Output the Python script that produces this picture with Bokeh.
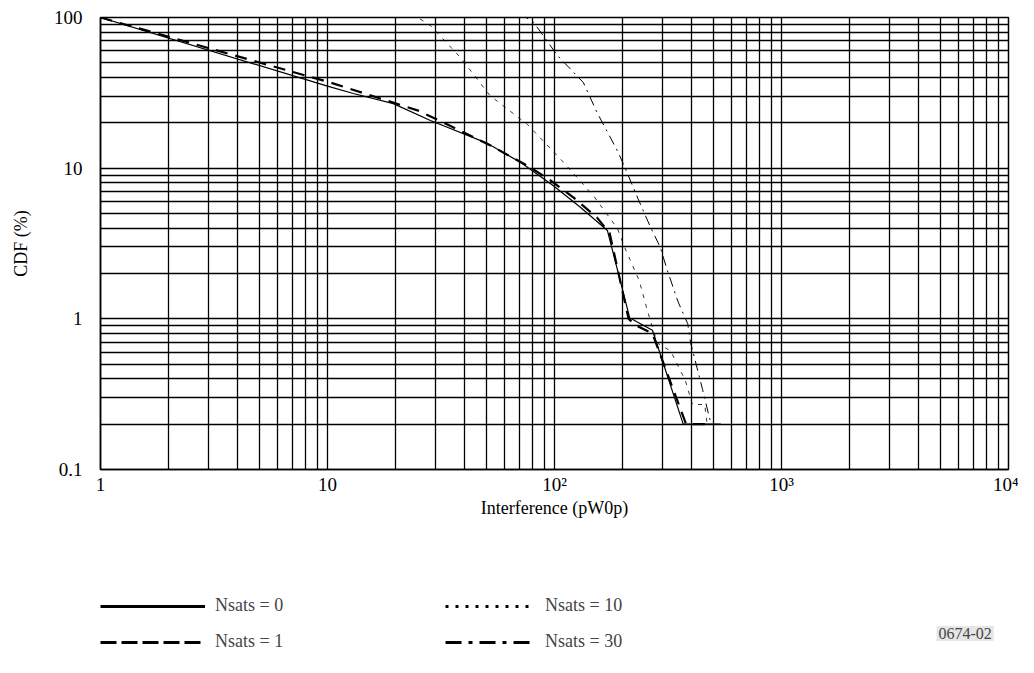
from bokeh.plotting import figure
from bokeh.layouts import column
from bokeh.models import FixedTicker, Legend, LegendItem, Label, CustomJSTickFormatter
from bokeh.embed import file_html
from bokeh.resources import INLINE

# ---- data ----
x_n0 = [1, 10, 13, 19.5, 28.4, 50.7, 71, 98.6, 130, 171, 215, 218, 270, 369, 540]
y_n0 = [100, 35, 31.3, 26.8, 20.7, 14.6, 10.9, 7.67, 5.5, 3.86, 1.0, 1.0, 0.84, 0.2, 0.2]

x_n1 = [1, 10.3, 24.9, 32.4, 52, 78.4, 96, 121, 154, 175, 212, 230, 270, 380, 480]
y_n1 = [100, 37, 24.2, 20.1, 14.2, 10.1, 8.3, 6.4, 4.7, 3.7, 1.0, 0.9, 0.8, 0.2, 0.2]

x_n10 = [1, 25, 28.4, 38.5, 52, 76, 108, 148, 189, 206, 217, 236, 254, 264, 284, 325, 377, 405, 459, 470]
y_n10 = [100, 100, 88.5, 54.3, 30.3, 19.5, 11.2, 6.6, 4.0, 2.86, 2.4, 1.8, 1.2, 0.98, 0.69, 0.61, 0.39, 0.27, 0.27, 0.2]

x_n30 = [1, 75, 81, 103, 134, 154, 191, 209, 233, 264, 292, 314, 350, 386, 398, 449, 478, 490]
y_n30 = [100, 100, 92.7, 56, 37, 23.4, 12.7, 9.3, 6.3, 4.1, 3.0, 2.1, 1.3, 0.93, 0.69, 0.34, 0.23, 0.2]

x_major = [1, 10, 100, 1000, 10000]
y_major = [0.1, 1, 10, 100]
x_grid = [k * 10 ** d for d in range(0, 4) for k in range(1, 10)] + [10000]
y_grid = [round(k * 10.0 ** d, 3) for d in range(-1, 2) for k in range(1, 10)] + [100]

labels = ["Nsats = 0", "Nsats = 1", "Nsats = 10", "Nsats = 30"]
fig_code = "0674-02"

FONT = "Liberation Serif"

p = figure(width=1018, height=540, x_axis_type="log", y_axis_type="log",
           x_range=(1, 10000), y_range=(0.1, 100),
           output_backend="svg", toolbar_location=None,
           min_border_left=100, min_border_right=10, min_border_top=17, min_border_bottom=71)

p.background_fill_color = "white"
p.border_fill_color = "white"
p.outline_line_color = "black"
p.outline_line_width = 1.5

# grids
p.xgrid.ticker = FixedTicker(ticks=x_grid)
p.ygrid.ticker = FixedTicker(ticks=y_grid)
for g in (p.xgrid, p.ygrid):
    g.grid_line_color = "black"
    g.grid_line_width = 1.3
    g.grid_line_alpha = 1.0

# axes
p.xaxis.ticker = FixedTicker(ticks=x_major, minor_ticks=[])
p.yaxis.ticker = FixedTicker(ticks=y_major, minor_ticks=[])
p.xaxis.formatter = CustomJSTickFormatter(code="""
const m = {0: "1", 1: "10", 2: "10\u00b2", 3: "10\u00b3", 4: "10\u2074"};
return m[Math.round(Math.log10(tick))];
""")
p.yaxis.formatter = CustomJSTickFormatter(code="""
const m = {"-1": "0.1", "0": "1", "1": "10", "2": "100"};
return m[String(Math.round(Math.log10(tick)))];
""")
for ax in (p.xaxis, p.yaxis):
    ax.axis_line_color = "black"
    ax.axis_line_width = 1.5
    ax.major_tick_line_color = None
    ax.minor_tick_line_color = None
    ax.major_tick_out = 0
    ax.major_tick_in = 0
    ax.major_label_text_font = FONT
    ax.major_label_text_font_size = "19px"
    ax.major_label_text_color = "black"
    ax.axis_label_text_font = FONT
    ax.axis_label_text_font_size = "18px"
    ax.axis_label_text_font_style = "normal"
    ax.axis_label_text_color = "black"

p.xaxis.axis_label = "Interference (pW0p)"
p.yaxis.axis_label = "CDF (%)"
p.xaxis.major_label_standoff = 4
p.xaxis.axis_label_standoff = 0
p.yaxis.major_label_standoff = 18
p.yaxis.axis_label_standoff = 20

# curves
p.line(x_n0, y_n0, line_color="black", line_width=1.2)
p.line(x_n1, y_n1, line_color="black", line_width=2.2, line_dash="12 8")
p.line(x_n10, y_n10, line_color="black", line_width=0.8, line_dash="4 6")
p.line(x_n30, y_n30, line_color="black", line_width=1.0, line_dash="10 5 2 5")

# ---- legend area (separate figure below the chart) ----
lf = figure(width=1018, height=117, x_range=(0, 1), y_range=(0, 1),
            output_backend="svg", toolbar_location=None,
            x_axis_location=None, y_axis_location=None, min_border=0)
lf.outline_line_color = None
lf.xgrid.visible = False
lf.ygrid.visible = False
lf.background_fill_color = "white"
lf.border_fill_color = "white"

# legend-only renderers: their points lie outside the visible range, only the legend swatch shows
off = [5, 6]
off_y = [5, 5]
l0 = lf.line(off, off_y, line_color="black", line_width=3)
l1 = lf.line(off, off_y, line_color="black", line_width=3, line_dash="16 5")
l10 = lf.line(off, off_y, line_color="black", line_width=3, line_dash="3 7")
l30 = lf.line(off, off_y, line_color="black", line_width=3, line_dash="16 7 4 7")

common = dict(glyph_height=20, label_height=20, spacing=15, padding=0, margin=0,
              border_line_color=None, background_fill_alpha=0, label_standoff=10,
              label_text_font=FONT, label_text_font_size="18px")
leg1 = Legend(items=[LegendItem(label=labels[0], renderers=[l0]),
                     LegendItem(label=labels[1], renderers=[l1])],
              location=(0, 5), glyph_width=105, **common)
leg2 = Legend(items=[LegendItem(label=labels[2], renderers=[l10]),
                     LegendItem(label=labels[3], renderers=[l30])],
              location=(345, 5), glyph_width=90, **common)
lf.add_layout(leg1)
lf.add_layout(leg2)

lf.add_layout(Label(x=836, y=24, x_units="screen", y_units="screen", text=fig_code,
                    text_baseline="middle", text_font=FONT, text_font_size="16px",
                    background_fill_color="#e6e6e6", background_fill_alpha=1.0,
                    padding=2))

open("out.html", "w").write(file_html(column(p, lf), INLINE))
